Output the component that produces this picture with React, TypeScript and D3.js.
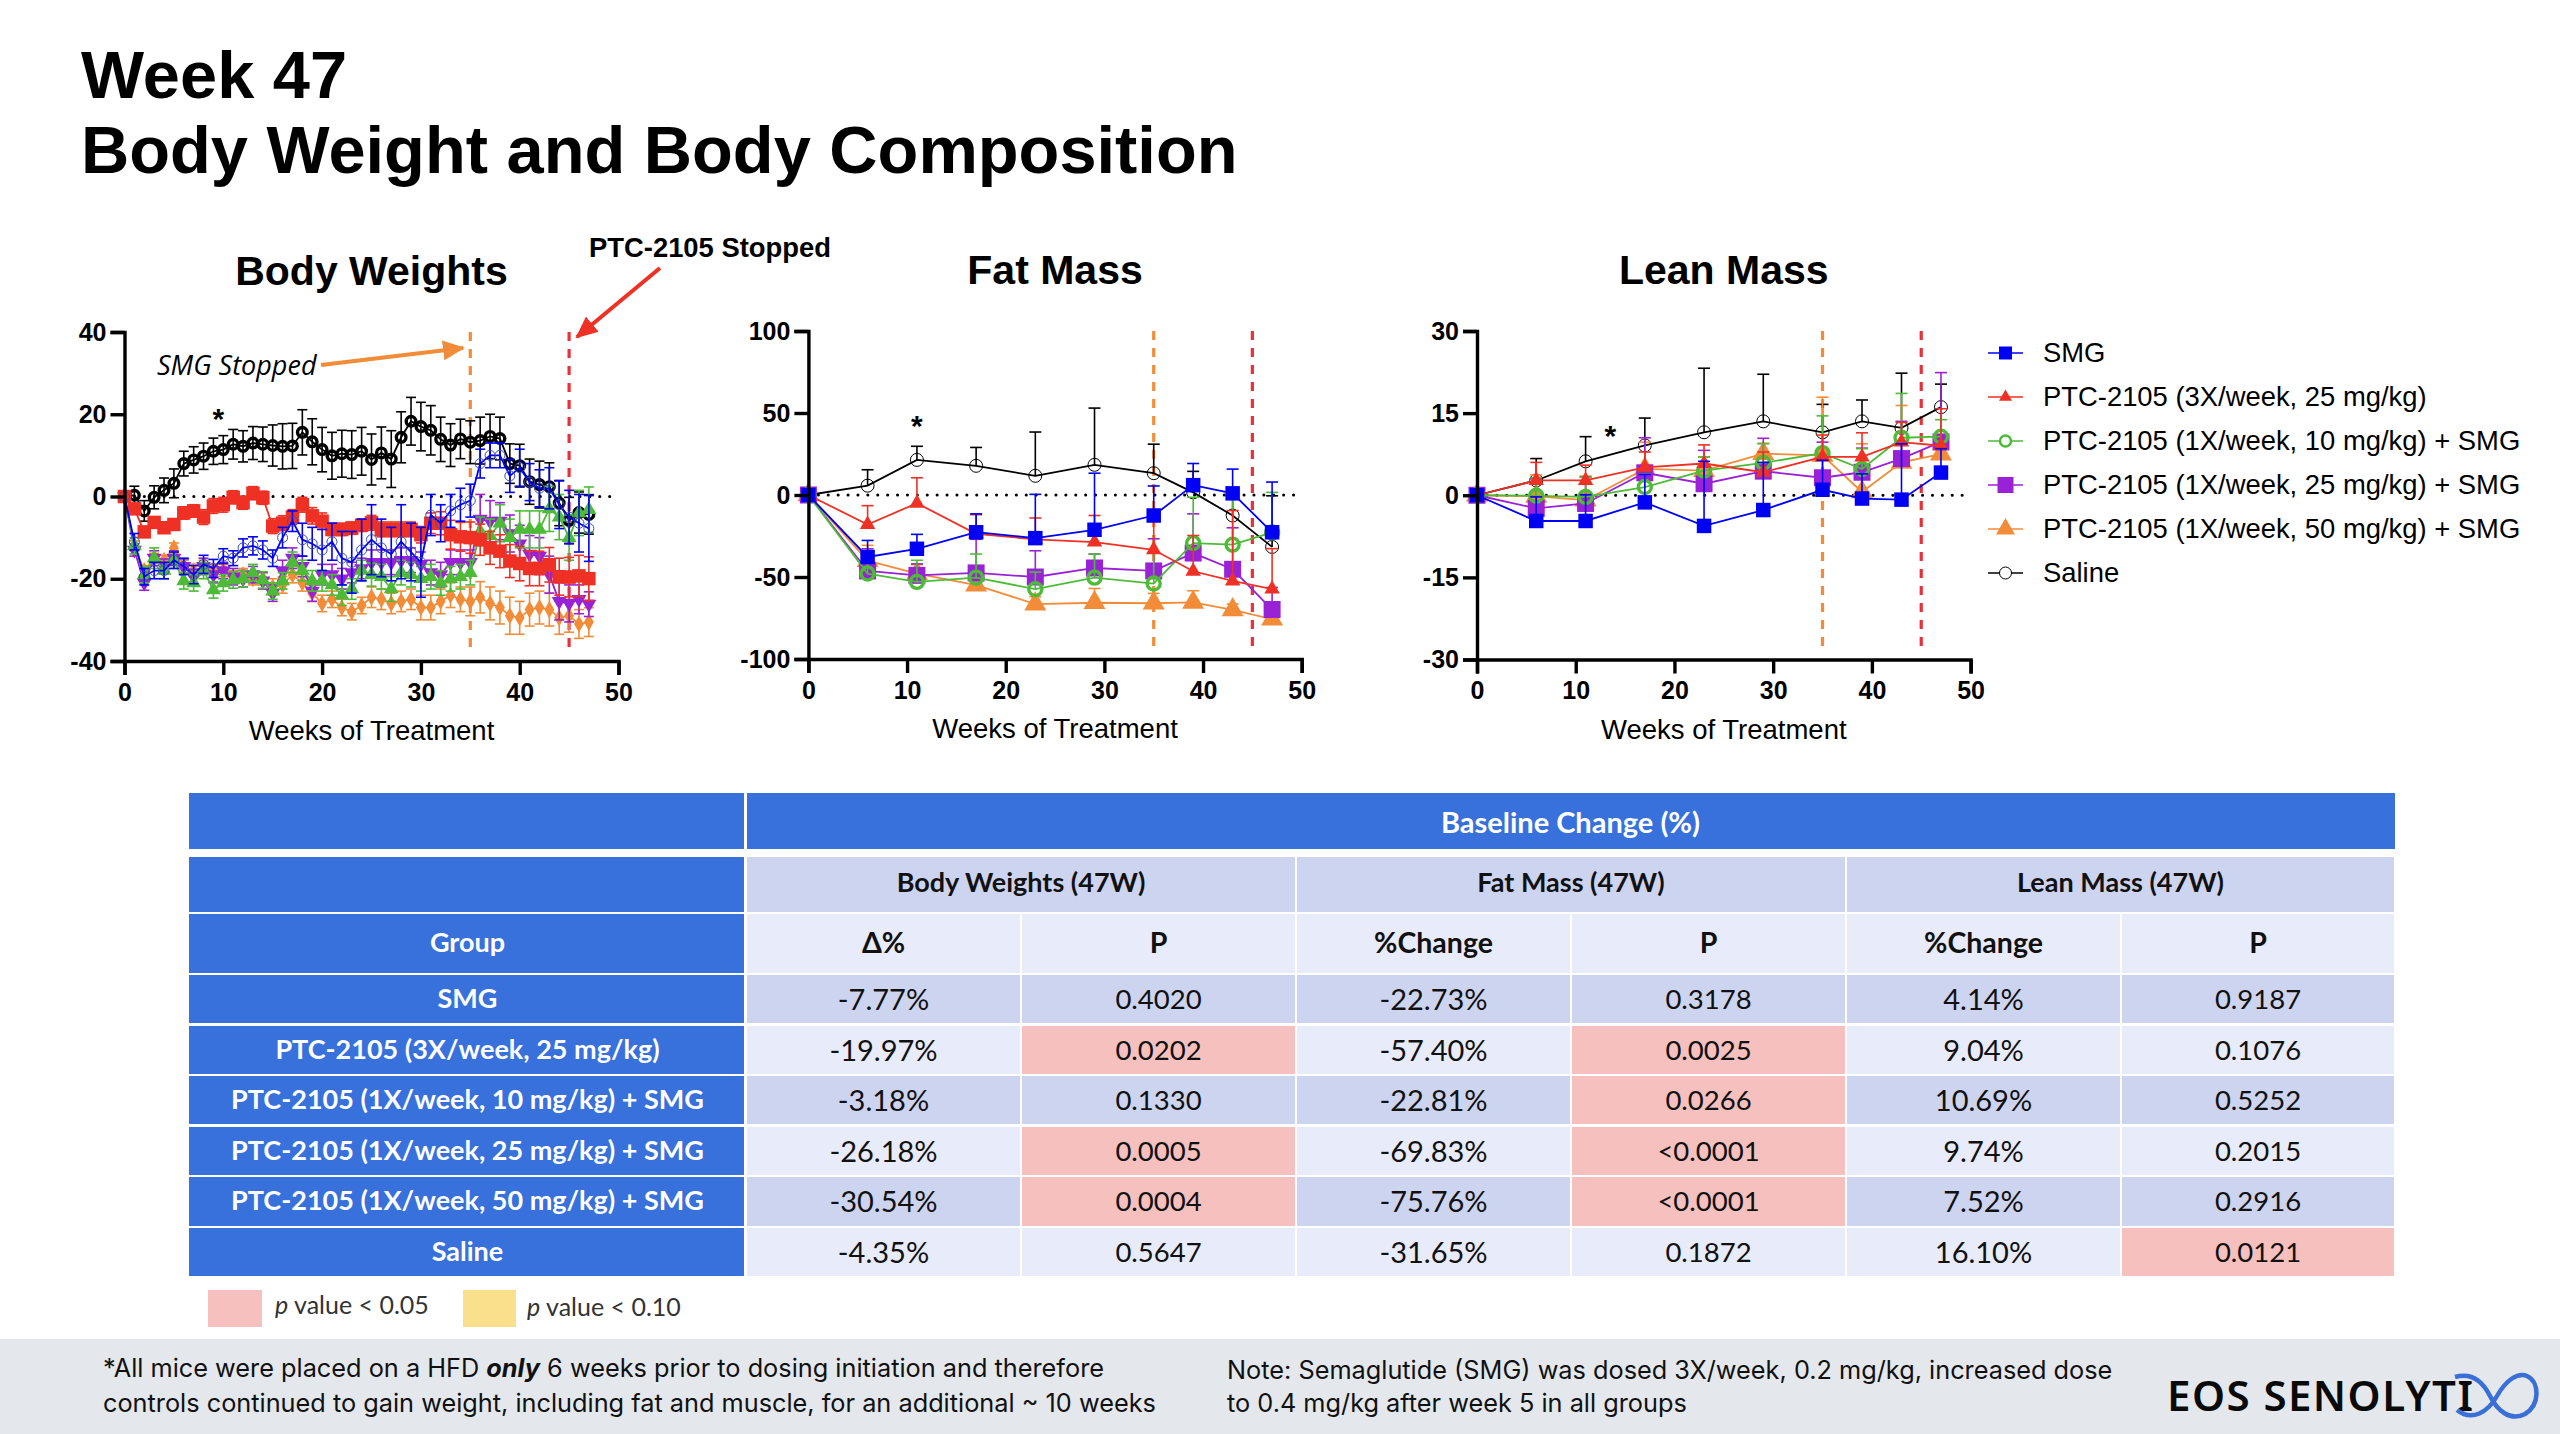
import { useEffect, useRef } from 'react'
import * as d3 from 'd3'

const SANS = '"Liberation Sans", Arial, sans-serif'
const TABLE_FONT = 'Lato, "Noto Sans", sans-serif'
const NOTE_FONT = 'Inter, "Noto Sans", sans-serif'

const BLUE = '#0000f5'
const RED = '#ee3124'
const GREEN = '#4dbb38'
const PURPLE = '#9a22d6'
const ORANGE = '#f28c38'
const BLACK = '#000000'

const groupNames = [
  'SMG',
  'PTC-2105 (3X/week, 25 mg/kg)',
  'PTC-2105 (1X/week, 10 mg/kg) + SMG',
  'PTC-2105 (1X/week, 25 mg/kg) + SMG',
  'PTC-2105 (1X/week, 50 mg/kg) + SMG',
  'Saline',
]

// body weights, one reading a week from week 0 to 47
const bodyWeeks = d3.range(0, 48)
const bwSmg = [0,-11,-19.5,-18,-18,-15.5,-17,-19,-16.5,-17.5,-14.5,-15,-12.5,-12,-13,-15,-10,-6,-10.5,-11.5,-13,-11,-15,-16,-13,-10.5,-12.5,-14,-11,-13.5,-16,-4.5,-6.5,-3.5,-2,-1,8,10,10,5,7,3.5,2,2,-2,-5,-6.5,-7.77]
const bwSmgErr = [0,2,2,2,2,2,2,2.2,2.2,2.2,1.8,1.8,2.2,2.2,2.2,2,2.5,2.5,4,4,5,4.5,6.5,7.5,7.5,8.5,7,6.5,9,7,8.5,5,4.5,4,4,4,3.5,3,3,4,4.5,4.5,4.5,5,5.8,6.5,7,8]
const bw3x = [0,-3,-8.6,-6.3,-7.6,-6.8,-4,-3.5,-5,-2.3,-2,-0.2,-1.5,0.8,-0.3,-7.2,-6.5,-5,-2,-4.7,-6,-8,-8,-7.7,-7,-6.4,-8,-8,-8,-8,-9.3,-6.5,-6.5,-9.3,-9.8,-10,-10.5,-12.5,-13.3,-15.7,-16.3,-17.5,-17.5,-16.6,-19.5,-19.6,-19.3,-19.97]
const bw3xErr = [0,1,1,1.2,1,1.2,1.5,1.5,1.8,1.8,1.8,1.6,1.6,1.6,1.6,1.8,1.8,1.8,1.8,2,2,1.5,1.5,1.5,1.5,1.8,1.8,1.8,1.8,1.8,2,2.5,2.8,3.5,3.5,3.8,3.8,4,4,4,4.2,4.2,4.2,4.2,4.5,4.8,5,5.3]
const bw10 = [0,-12,-19,-15,-18,-15.5,-20.5,-21,-18,-22.7,-21,-20.3,-20,-18.5,-20.3,-23,-20.5,-16,-18,-20.5,-20.5,-21.5,-24,-22.5,-18,-19,-19.5,-22.5,-18.5,-19,-20,-19.5,-21,-20,-19.5,-18.5,-8.5,-9.5,-6.5,-10,-8,-8,-8,-3,-5,-10,-4,-3.18]
const bw10Err = [0,2,2,2.5,2,2,2,2,2,2,2,2,2,2,2,2,2,2.5,2.5,2.5,2.5,2.5,2.5,2.5,2.5,2.8,3,3,3,3,3,3,3,3,3,3,3.5,4,4.5,4.5,4.5,4.5,4.5,5.5,5.5,5.5,5.5,5.5]
const bw25 = [0,-13,-21,-15,-17,-15,-17,-19.5,-17,-19,-18,-19.5,-20,-19,-20.5,-23.5,-18,-15,-17,-23,-19,-19,-20,-18.5,-17.5,-16,-16,-16,-15.5,-15.5,-16.5,-18.5,-19,-16,-16,-16,-5.5,-6,-6,-9,-11.5,-14,-14.5,-19,-25.5,-26,-25,-26.18]
const bw25Err = [0,1.5,1.8,1.8,1.8,1.8,1.8,1.8,2,2,2,2,2,2,2,2,2.5,2.5,2.5,2.5,2.5,2.5,2.5,2.5,2.5,3,3,3,3,3,3,3,3,3,3,3,6,5,4.5,4.5,4.5,4.5,4.5,4.5,4.5,4.5,3.5,3]
const bw50 = [0,-12,-18,-15,-15.5,-12.5,-17,-18,-17,-18,-18,-19.5,-19,-20,-20,-22,-21.5,-19,-21,-23.5,-26,-25,-27,-28,-26.5,-24.5,-25,-26,-25.5,-25,-27,-27,-25.5,-24,-25,-25.5,-24.5,-26,-27,-29,-29.5,-27.5,-27,-27.5,-29.5,-29,-31,-30.54]
const bw50Err = [0,1.2,1.2,1.2,1.2,1.2,1.5,1.5,1.5,1.5,1.5,1.5,1.5,1.5,1.5,2,2,2,2,2,2,2,2,2,2,2.5,2.5,2.5,2.5,2.5,3,3,3,3,3,3.5,3.8,4,4,4.5,4,4,4,4,4,4,3.5,3.5]
const bwSaline = [0,0.3,-3.5,-0.2,1.5,3.2,8,8.9,9.8,11,11.4,12.7,12.2,13,12.7,12.4,12.2,12.3,15.6,13.3,11.4,9.9,10.4,10.2,11,9,10.6,9.1,14.4,18.3,17,16.1,13.9,12.5,14,13.2,13.6,14.6,14.1,8,7.5,3.6,2.9,2.4,-1.6,-5.8,-3.9,-4.35]
const bwSalineErr = [0,2.2,2.5,2.8,3,3.5,3,3.2,3.2,3.2,3.4,3.6,3.8,4,4.2,5,5.5,5.5,5.5,5.6,5.4,5.7,5.7,5.8,5.8,6.2,6.3,6.9,6.2,5.8,5.9,6,5.4,5.2,4.8,5.2,5.7,5.4,5.2,4.8,5.2,5.5,5.7,5.8,5.5,5.6,5,4.8]

// DEXA scans
const scanWeeks = [0, 6, 11, 17, 23, 29, 35, 39, 43, 47]
const fatSmg = [0,-37.8,-32.8,-22.7,-26.3,-21.2,-12.5,6,1,-22.73]
const fatSmgTop = [0,-27.7,-24,-11.5,0.4,13.3,5.5,19.2,15.8,7.9]
const fat3x = [0,-18,-5,-23.7,-27,-28.7,-33.4,-46.5,-52.4,-57.4]
const fat3xTop = [0,-6.5,10.5,-12,-14,-12.5,-10,-24.7,-9.5,-32.7]
const fat10 = [0,-47.9,-53,-50.4,-57.4,-50.4,-54,-29.3,-30.3,-22.81]
const fat10Top = [0,-38,-39.8,-36,-47,-36,-35,-1.4,-2.4,1.6]
const fat25 = [0,-46.3,-49,-47.5,-50,-44.5,-46.3,-35.4,-45.3,-69.83]
const fat25Top = [0,-32.8,-42,-27,-34,-36,-26.7,-11.5,-20,-56.4]
const fat50 = [0,-40,-48,-55,-66.5,-65.7,-66,-65.5,-70,-75.76]
const fat50Top = [0,-30.7,-42.5,-51,-62,-57,-60,-58.4,-66.5,-72]
const fatSaline = [0,5.7,21.4,17.8,11.7,18.4,13.3,1.6,-12.5,-31.65]
const fatSalineTop = [0,15.4,29.7,29,38.4,53,31,14.4,-0.5,-0.5]

const leanSmg = [0,-4.7,-4.7,-1.3,-5.6,-2.7,1,-0.6,-0.8,4.14]
const leanSmgTop = [0,-0.3,0.1,3.8,6.2,6,6.4,3.9,9.4,8.5]
const lean3x = [0,2.7,2.7,5.1,5.8,4.2,7,7,9.7,9.04]
const lean3xTop = [0,6,5.5,7.9,9.2,7.9,11,11.4,13.3,15.8]
const lean10 = [0,-0.1,-0.3,1.5,4.5,5.9,7.7,4.8,10.5,10.69]
const lean10Top = [0,3.2,3.3,3.9,7,9.4,14.5,8.5,18.6,13.8]
const lean25 = [0,-2.4,-1.5,4.1,2.1,4.4,3.2,4.2,6.7,9.74]
const lean25Top = [0,3,3.3,10.5,8.2,10.4,9.7,8.6,13.5,22.4]
const lean50 = [0,-0.2,-0.9,4.8,4.5,7.6,7.3,0.6,6,7.52]
const lean50Top = [0,3.7,3.5,9.7,7,9.5,17.9,9.4,16.4,10.9]
const leanSaline = [0,2.7,6.2,9.1,11.5,13.5,11.5,13.5,12.3,16.1]
const leanSalineTop = [0,6.7,10.7,14.1,23.2,22.1,16.6,17.4,22.3,20.3]

const xTicks = [0, 10, 20, 30, 40, 50]
const stopWeeks = { smg: 35, ptc: 45 }

// table
const bwDelta = ['-7.77%','-19.97%','-3.18%','-26.18%','-30.54%','-4.35%']
const bwP = ['0.4020','0.0202','0.1330','0.0005','0.0004','0.5647']
const fatChange = ['-22.73%','-57.40%','-22.81%','-69.83%','-75.76%','-31.65%']
const fatP = ['0.3178','0.0025','0.0266','<0.0001','<0.0001','0.1872']
const leanChange = ['4.14%','9.04%','10.69%','9.74%','7.52%','16.10%']
const leanP = ['0.9187','0.1076','0.5252','0.2015','0.2916','0.0121']

type Marker = { shape: d3.SymbolType; size: number; open?: boolean; strokeW?: number; rotate?: number; stroke?: string }
type Series = { color: string; values: number[]; top: number[]; bottom?: number[]; marker: Marker; lineW?: number }

const sq = (s: number) => s * s
const circ = (r: number) => Math.PI * r * r
const tri = (w: number) => (w * w * Math.sqrt(3)) / 4

function plusMinus(vals: number[], errs: number[], sign: number) {
  return vals.map((v, i) => v + sign * errs[i])
}

const bodySeries: Series[] = [
  { color: BLACK, values: bwSaline, top: plusMinus(bwSaline, bwSalineErr, 1), bottom: plusMinus(bwSaline, bwSalineErr, -1), marker: { shape: d3.symbolCircle, size: circ(4.8), open: true, strokeW: 3.4 } },
  { color: ORANGE, values: bw50, top: plusMinus(bw50, bw50Err, 1), bottom: plusMinus(bw50, bw50Err, -1), marker: { shape: d3.symbolDiamond, size: 85 } },
  { color: PURPLE, values: bw25, top: plusMinus(bw25, bw25Err, 1), bottom: plusMinus(bw25, bw25Err, -1), marker: { shape: d3.symbolTriangle, size: tri(15), rotate: 180 } },
  { color: GREEN, values: bw10, top: plusMinus(bw10, bw10Err, 1), bottom: plusMinus(bw10, bw10Err, -1), marker: { shape: d3.symbolTriangle, size: tri(15) } },
  { color: RED, values: bw3x, top: plusMinus(bw3x, bw3xErr, 1), bottom: plusMinus(bw3x, bw3xErr, -1), marker: { shape: d3.symbolSquare, size: sq(13.5) } },
  { color: BLUE, values: bwSmg, top: plusMinus(bwSmg, bwSmgErr, 1), bottom: plusMinus(bwSmg, bwSmgErr, -1), marker: { shape: d3.symbolCircle, size: circ(5), open: true, strokeW: 1, stroke: '#3d4fb0' } },
]

const scanMarkers: Record<string, Marker> = {
  saline: { shape: d3.symbolCircle, size: circ(6.5), open: true, strokeW: 1 },
  m50: { shape: d3.symbolTriangle, size: tri(22) },
  m25: { shape: d3.symbolSquare, size: sq(17) },
  m10: { shape: d3.symbolCircle, size: circ(6.5), open: true, strokeW: 3.4 },
  m3x: { shape: d3.symbolTriangle, size: tri(15.5) },
  smg: { shape: d3.symbolSquare, size: sq(14.5) },
}

const fatSeries: Series[] = [
  { color: BLACK, values: fatSaline, top: fatSalineTop, marker: scanMarkers.saline },
  { color: ORANGE, values: fat50, top: fat50Top, marker: scanMarkers.m50 },
  { color: PURPLE, values: fat25, top: fat25Top, marker: scanMarkers.m25 },
  { color: GREEN, values: fat10, top: fat10Top, marker: scanMarkers.m10 },
  { color: RED, values: fat3x, top: fat3xTop, marker: scanMarkers.m3x },
  { color: BLUE, values: fatSmg, top: fatSmgTop, marker: scanMarkers.smg },
]

const leanSeries: Series[] = [
  { color: BLACK, values: leanSaline, top: leanSalineTop, marker: scanMarkers.saline },
  { color: ORANGE, values: lean50, top: lean50Top, marker: scanMarkers.m50 },
  { color: PURPLE, values: lean25, top: lean25Top, marker: scanMarkers.m25 },
  { color: GREEN, values: lean10, top: lean10Top, marker: scanMarkers.m10 },
  { color: RED, values: lean3x, top: lean3xTop, marker: scanMarkers.m3x },
  { color: BLUE, values: leanSmg, top: leanSmgTop, marker: scanMarkers.smg },
]

const legendSeries = [
  { color: BLUE, marker: { shape: d3.symbolSquare, size: sq(13) } as Marker },
  { color: RED, marker: { shape: d3.symbolTriangle, size: tri(13) } as Marker },
  { color: GREEN, marker: { shape: d3.symbolCircle, size: circ(5.5), open: true, strokeW: 2.5 } as Marker },
  { color: PURPLE, marker: { shape: d3.symbolSquare, size: sq(16) } as Marker },
  { color: ORANGE, marker: { shape: d3.symbolTriangle, size: tri(19) } as Marker },
  { color: BLACK, marker: { shape: d3.symbolCircle, size: circ(6), open: true, strokeW: 1 } as Marker },
]

interface PanelProps {
  left: number
  top: number
  width: number
  height: number
  title: string
  yDomain: [number, number]
  yTicks: number[]
  weeks: number[]
  series: Series[]
  star: [number, number]
  capW: number
}

function Panel({ left, top, width, height, title, yDomain, yTicks, weeks, series, star, capW }: PanelProps) {
  const gRef = useRef<SVGGElement>(null)

  useEffect(() => {
    if (!gRef.current) return
    const g = d3.select(gRef.current)
    g.selectAll('*').remove()

    const x = d3.scaleLinear().domain([0, 50]).range([0, width])
    const y = d3.scaleLinear().domain(yDomain).range([height, 0])

    // stop lines
    const lines: [number, string][] = [[stopWeeks.smg, ORANGE], [stopWeeks.ptc, '#e8323a']]
    lines.forEach(([wk, c]) => {
      g.append('line')
        .attr('x1', x(wk)).attr('x2', x(wk))
        .attr('y1', 0).attr('y2', height - 9)
        .attr('stroke', c).attr('stroke-width', 3.2)
        .attr('stroke-dasharray', '9 8')
    })

    g.append('line')
      .attr('x1', x(0)).attr('x2', x(49.3))
      .attr('y1', y(0)).attr('y2', y(0))
      .attr('stroke', '#000').attr('stroke-width', 3)
      .attr('stroke-linecap', 'round')
      .attr('stroke-dasharray', '0.1 9.8')

    const line = d3.line<number>().x((_, i) => x(weeks[i])).y(d => y(d))

    series.forEach(s => {
      const sg = g.append('g')
      weeks.forEach((wk, i) => {
        if (i === 0) return
        const hi = s.top[i]
        const lo = s.bottom ? s.bottom[i] : s.values[i]
        sg.append('line')
          .attr('x1', x(wk)).attr('x2', x(wk))
          .attr('y1', y(hi)).attr('y2', y(lo))
          .attr('stroke', s.color).attr('stroke-width', 1.6)
        sg.append('line')
          .attr('x1', x(wk) - capW / 2).attr('x2', x(wk) + capW / 2)
          .attr('y1', y(hi)).attr('y2', y(hi))
          .attr('stroke', s.color).attr('stroke-width', 1.6)
        if (s.bottom) {
          sg.append('line')
            .attr('x1', x(wk) - capW / 2).attr('x2', x(wk) + capW / 2)
            .attr('y1', y(lo)).attr('y2', y(lo))
            .attr('stroke', s.color).attr('stroke-width', 1.6)
        }
      })
      sg.append('path')
        .attr('d', line(s.values))
        .attr('fill', 'none')
        .attr('stroke', s.color)
        .attr('stroke-width', s.lineW ?? 1.8)
      const m = s.marker
      weeks.forEach((wk, i) => {
        sg.append('path')
          .attr('d', d3.symbol().type(m.shape).size(m.size)() as string)
          .attr('transform', `translate(${x(wk)},${y(s.values[i])}) rotate(${m.rotate ?? 0})`)
          .attr('fill', m.open ? 'none' : s.color)
          .attr('stroke', m.open ? (m.stroke ?? s.color) : 'none')
          .attr('stroke-width', m.strokeW ?? 0)
      })
    })

    const xAxis = d3.axisBottom(x).tickValues(xTicks).tickSize(14).tickPadding(8).tickFormat(d => String(d))
    const yAxis = d3.axisLeft(y).tickValues(yTicks).tickSize(14).tickPadding(4).tickFormat(d => String(d))

    const xg = g.append('g').attr('transform', `translate(0,${height})`).call(xAxis)
    const yg = g.append('g').call(yAxis)
    ;[xg, yg].forEach(a => {
      a.selectAll('.domain, .tick line').attr('stroke', '#000').attr('stroke-width', 3.4)
      a.selectAll('.tick text')
        .attr('fill', '#000')
        .style('font-family', SANS)
        .style('font-size', '25px')
        .style('font-weight', 700)
    })

    g.append('text')
      .attr('x', x(star[0])).attr('y', y(star[1]))
      .attr('text-anchor', 'middle')
      .attr('font-family', SANS).attr('font-weight', 700).attr('font-size', 30)
      .text('*')
  }, [width, height, yDomain, yTicks, weeks, series, star, capW])

  return (
    <g transform={`translate(${left},${top})`}>
      <text x={width / 2} y={-47} textAnchor="middle" fontFamily={SANS} fontWeight={700} fontSize={41}>{title}</text>
      <text x={width / 2} y={height + 79} textAnchor="middle" fontFamily={SANS} fontSize={27.5}>Weeks of Treatment</text>
      <g ref={gRef} />
    </g>
  )
}

function DataTable() {
  const colX = [189, 746, 1021, 1296, 1571, 1846, 2121, 2395]
  const rowY = [
    [857, 912], [914, 973], [975, 1023], [1026, 1074], [1076, 1124], [1127, 1175], [1177, 1226], [1228, 1276],
  ]
  const BLUE_CELL = '#3870dc'
  const DARK = '#cdd4f0'
  const LIGHT = '#e8ebf9'
  const PINK = '#f5c0bd'
  const columns = [bwDelta, bwP, fatChange, fatP, leanChange, leanP]
  const subHeads = ['Δ%', 'P', '%Change', 'P', '%Change', 'P']
  const groupHeads = ['Body Weights (47W)', 'Fat Mass (47W)', 'Lean Mass (47W)']
  const isP = (c: number) => c % 2 === 1
  const sig = (s: string) => s.startsWith('<') || parseFloat(s) < 0.05
  const cell = (x0: number, x1: number, y0: number, y1: number, fill: string) => (
    <rect x={x0} y={y0} width={x1 - x0} height={y1 - y0} fill={fill} />
  )
  const label = (cx: number, cy: number, t: string, fill: string, bold: boolean, size = 27) => (
    <text x={cx} y={cy} textAnchor="middle" dominantBaseline="central" fontFamily={TABLE_FONT} fontSize={size} fontWeight={bold ? 700 : 400} fill={fill}>{t}</text>
  )
  return (
    <g>
      {cell(colX[0], colX[1] - 2, 793, 849, BLUE_CELL)}
      {cell(colX[1] + 1, colX[7], 793, 849, BLUE_CELL)}
      {label((colX[1] + colX[7]) / 2, 821, 'Baseline Change (%)', '#fff', true, 29)}
      {cell(colX[0], colX[1] - 2, rowY[0][0], rowY[0][1], BLUE_CELL)}
      {groupHeads.map((t, i) => (
        <g key={t}>
          {cell(colX[1 + i * 2] + 1, colX[3 + i * 2] - 1, rowY[0][0], rowY[0][1], DARK)}
          {label((colX[1 + i * 2] + colX[3 + i * 2]) / 2, (rowY[0][0] + rowY[0][1]) / 2 - 3, t, '#111', true)}
        </g>
      ))}
      {cell(colX[0], colX[1] - 2, rowY[1][0], rowY[1][1], BLUE_CELL)}
      {label((colX[0] + colX[1]) / 2, (rowY[1][0] + rowY[1][1]) / 2 - 2, 'Group', '#fff', true)}
      {subHeads.map((t, i) => (
        <g key={i}>
          {cell(colX[i + 1] + 1, colX[i + 2] - 1, rowY[1][0], rowY[1][1], LIGHT)}
          {label((colX[i + 1] + colX[i + 2]) / 2, (rowY[1][0] + rowY[1][1]) / 2 - 2, t, '#111', true, 28.5)}
        </g>
      ))}
      {groupNames.map((name, r) => {
        const [y0, y1] = rowY[r + 2]
        return (
          <g key={name}>
            {cell(colX[0], colX[1] - 2, y0, y1, BLUE_CELL)}
            {label((colX[0] + colX[1]) / 2, (y0 + y1) / 2 - 2, name, '#fff', true)}
            {columns.map((col, c) => (
              <g key={c}>
                {cell(colX[c + 1] + 1, colX[c + 2] - 1, y0, y1, isP(c) && sig(col[r]) ? PINK : r % 2 === 0 ? DARK : LIGHT)}
                {label((colX[c + 1] + colX[c + 2]) / 2, (y0 + y1) / 2 - 1, col[r], '#111', false, isP(c) ? 27.5 : 29)}
              </g>
            ))}
          </g>
        )
      })}
      {cell(208, 262, 1290, 1327, '#f5c0bd')}
      {cell(463, 516, 1290, 1327, '#fadf8c')}
      <text x={275} y={1314} fontFamily={TABLE_FONT} fontSize={25} fill="#333"><tspan fontStyle="italic">p</tspan> value {'<'} 0.05</text>
      <text x={527} y={1316} fontFamily={TABLE_FONT} fontSize={25} fill="#333"><tspan fontStyle="italic">p</tspan> value {'<'} 0.10</text>
    </g>
  )
}

function Legend() {
  const rowsY = d3.scalePoint<number>().domain(d3.range(6)).range([353, 573])
  return (
    <g>
      {groupNames.map((name, i) => {
        const yy = rowsY(i) as number
        const s = legendSeries[i]
        const m = s.marker
        return (
          <g key={name}>
            <line x1={1988} x2={2023} y1={yy} y2={yy} stroke={s.color} strokeWidth={1.6} />
            <path
              d={d3.symbol().type(m.shape).size(m.size)() as string}
              transform={`translate(2005.5,${yy})`}
              fill={m.open ? '#fff' : s.color}
              stroke={m.open ? s.color : 'none'}
              strokeWidth={m.strokeW ?? 0}
            />
            <text x={2043} y={yy + 9} fontFamily={SANS} fontSize={27.4}>{name}</text>
          </g>
        )
      })}
    </g>
  )
}

export default function App() {
  return (
    <svg width={2560} height={1434} viewBox="0 0 2560 1434" style={{ position: 'absolute', left: 0, top: 0, background: '#fff' }}>
      <defs>
        <marker id="arrowOrange" markerUnits="userSpaceOnUse" markerWidth="22" markerHeight="20" refX="20" refY="10" orient="auto">
          <path d="M0,0 L22,10 L0,20 Z" fill="#f28c38" />
        </marker>
        <marker id="arrowRed" markerUnits="userSpaceOnUse" markerWidth="22" markerHeight="20" refX="20" refY="10" orient="auto">
          <path d="M0,0 L22,10 L0,20 Z" fill="#ee3124" />
        </marker>
      </defs>

      <text x={81} y={98} fontFamily={SANS} fontWeight={700} fontSize={66.8}>Week 47</text>
      <text x={81} y={173} fontFamily={SANS} fontWeight={700} fontSize={66.8}>Body Weight and Body Composition</text>

      <Panel left={124.5} top={332} width={494} height={329} title="Body Weights" yDomain={[-40, 40]} yTicks={[-40, -20, 0, 20, 40]} weeks={bodyWeeks} series={bodySeries} star={[9.5, 16.5]} capW={10} />
      <Panel left={808.4} top={331} width={493.3} height={328} title="Fat Mass" yDomain={[-100, 100]} yTicks={[-100, -50, 0, 50, 100]} weeks={scanWeeks} series={fatSeries} star={[11, 36]} capW={12} />
      <Panel left={1477} top={331} width={493.6} height={328.5} title="Lean Mass" yDomain={[-30, 30]} yTicks={[-30, -15, 0, 15, 30]} weeks={scanWeeks} series={leanSeries} star={[13.5, 9]} capW={12} />

      <text x={157} y={375} fontFamily={'"Open Sans", sans-serif'} fontStyle="italic" fontSize={27}>SMG Stopped</text>
      <line x1={321} y1={365} x2={463} y2={348} stroke="#f28c38" strokeWidth={4} markerEnd="url(#arrowOrange)" />
      <text x={710} y={257} textAnchor="middle" fontFamily={SANS} fontWeight={700} fontSize={27.4}>PTC-2105 Stopped</text>
      <line x1={660} y1={268} x2={577} y2={337} stroke="#ee3124" strokeWidth={4} markerEnd="url(#arrowRed)" />

      <Legend />
      <DataTable />

      <rect x={0} y={1339} width={2560} height={95} fill="#e4e8ed" />
      <text x={103} y={1377} fontFamily={NOTE_FONT} fontSize={25.3} fill="#111">*All mice were placed on a HFD <tspan fontWeight={700} fontStyle="italic">only</tspan> 6 weeks prior to dosing initiation and therefore</text>
      <text x={103} y={1412} fontFamily={NOTE_FONT} fontSize={25.3} fill="#111">controls continued to gain weight, including fat and muscle, for an additional ~ 10 weeks</text>
      <text x={1227} y={1379} fontFamily={NOTE_FONT} fontSize={25.3} fill="#111">Note: Semaglutide (SMG) was dosed 3X/week, 0.2 mg/kg, increased dose</text>
      <text x={1227} y={1412} fontFamily={NOTE_FONT} fontSize={25.3} fill="#111">to 0.4 mg/kg after week 5 in all groups</text>

      <text x={2167} y={1411} fontFamily={'"Noto Sans", sans-serif'} fontWeight={600} fontSize={42} textLength={306} lengthAdjust="spacing" fill="#0a0a0a">EOS SENOLYTI</text>
      <path d="M2457,1410 C2472,1422 2488,1412 2497,1396 C2506,1380 2518,1372 2527,1376 C2540,1382 2540,1405 2525,1414 C2510,1422 2497,1410 2490,1396 C2483,1382 2472,1372 2455,1377" fill="none" stroke="#3a6fd8" strokeWidth={4.5} />
    </svg>
  )
}
